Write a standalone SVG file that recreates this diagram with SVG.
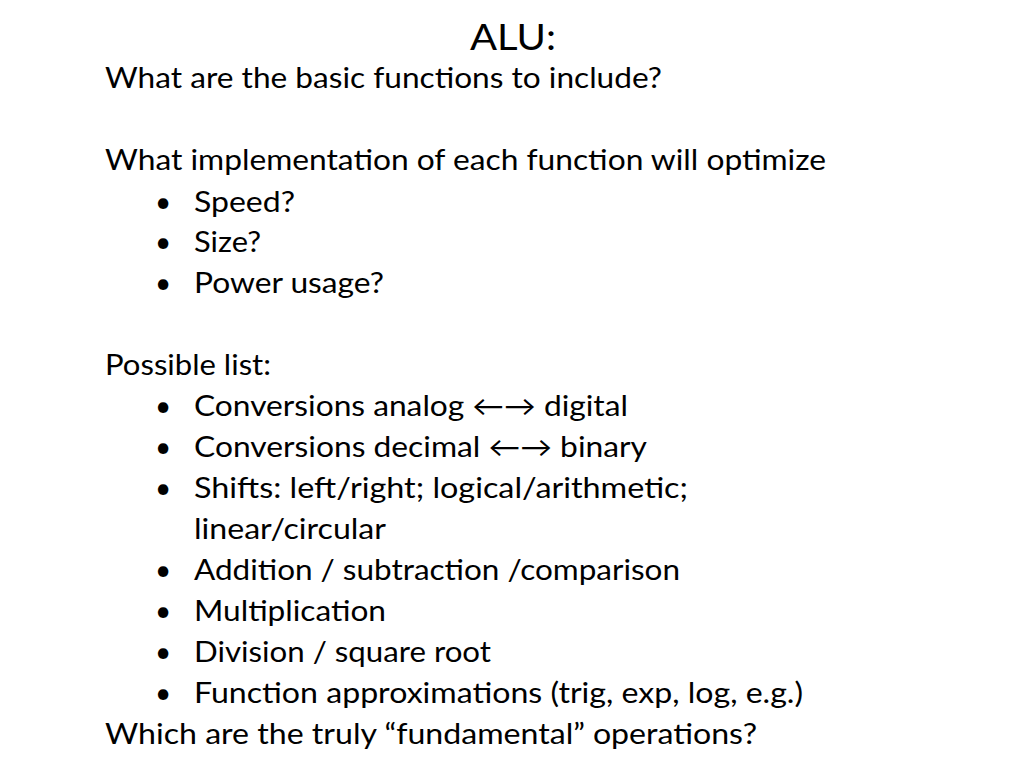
<svg xmlns="http://www.w3.org/2000/svg" width="1024" height="768" viewBox="0 0 1024 768">
<style>
text{font-family:Lato,"Open Sans","Liberation Sans",sans-serif;font-size:28px;fill:#000}
.t{font-size:37px}
</style>
<rect width="1024" height="768" fill="#fff"/>
<g id="title"><text class="t" x="470" y="50" textLength="86" lengthAdjust="spacingAndGlyphs">ALU:</text></g>
<g id="body">
<text x="105" y="88" textLength="557" lengthAdjust="spacingAndGlyphs">What are the basic functions to include?</text>
<text x="105" y="170" textLength="721" lengthAdjust="spacingAndGlyphs">What implementation of each function will optimize</text>
<text x="155" y="212">•</text><text x="194" y="212" textLength="101" lengthAdjust="spacingAndGlyphs">Speed?</text>
<text x="155" y="252">•</text><text x="194" y="252" textLength="67" lengthAdjust="spacingAndGlyphs">Size?</text>
<text x="155" y="293">•</text><text x="194" y="293" textLength="190" lengthAdjust="spacingAndGlyphs">Power usage?</text>
<text x="105" y="375" textLength="166" lengthAdjust="spacingAndGlyphs">Possible list:</text>
<text x="155" y="416">•</text><text x="194" y="416" textLength="434" lengthAdjust="spacingAndGlyphs">Conversions analog ←→ digital</text>
<text x="155" y="457">•</text><text x="194" y="457" textLength="453" lengthAdjust="spacingAndGlyphs">Conversions decimal ←→ binary</text>
<text x="155" y="498">•</text><text x="194" y="498" textLength="494" lengthAdjust="spacingAndGlyphs">Shifts:  left/right; logical/arithmetic;</text>
<text x="194" y="539" textLength="192" lengthAdjust="spacingAndGlyphs">linear/circular</text>
<text x="155" y="580">•</text><text x="194" y="580" textLength="486" lengthAdjust="spacingAndGlyphs">Addition / subtraction /comparison</text>
<text x="155" y="621">•</text><text x="194" y="621" textLength="192" lengthAdjust="spacingAndGlyphs">Multiplication</text>
<text x="155" y="662">•</text><text x="194" y="662" textLength="297" lengthAdjust="spacingAndGlyphs">Division / square root</text>
<text x="155" y="703">•</text><text x="194" y="703" textLength="609" lengthAdjust="spacingAndGlyphs">Function approximations (trig, exp, log, e.g.)</text>
<text x="105" y="744" textLength="652" lengthAdjust="spacingAndGlyphs">Which are the truly “fundamental” operations?</text>
</g>
</svg>
